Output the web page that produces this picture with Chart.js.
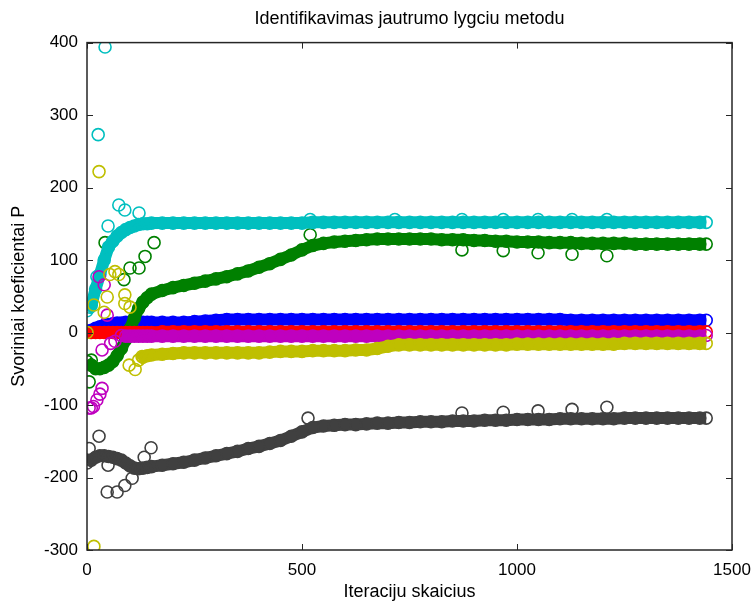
<!DOCTYPE html>
<html>
<head>
<meta charset="utf-8">
<script src="https://cdn.jsdelivr.net/npm/chart.js@4.4.1/dist/chart.umd.min.js"></script>
<style>
  body { margin: 0; background: #fff; }
  #wrap { width: 755px; height: 604px; }
</style>
</head>
<body>
<div id="wrap"><canvas id="myChart" width="755" height="604"></canvas></div>
<script>
// iteration numbers where the band values were read
var iters = [0,10,20,30,40,50,60,70,80,90,100,110,120,130,140,150,
  175,200,225,250,275,300,325,350,375,400,425,450,475,500,525,550,575,600,625,650,675,700,
  725,750,775,800,825,850,875,900,925,950,975,1000,1025,1050,1075,1100,1125,1150,1175,1200,
  1225,1250,1275,1300,1325,1350,1375,1400,1425,1440];

var blueVals = [0,3,6,8,10,11,12,13,13,14,14,14,14,14,14,14,
  14,14,14,15,16,17,18,18,18,18,18,18,18,18,18,18,18,18,18,18,18,18,
  18,18,18,18,18,18,18,18,18,18,18,18,18,18,18,18,17,17,17,17,
  17,17,17,17,17,17,17,17,17,17];
var greenVals = [-40,-45,-50,-50,-48,-45,-40,-32,-22,-10,5,20,33,42,48,53,
  58,62,65,68,71,74,77,81,85,90,95,101,107,114,120,123,125,126,127,128,129,129,
  129,129,129,129,128,128,128,127,127,126,126,125,125,125,124,124,124,123,123,123,
  123,123,122,122,122,122,122,122,122,122];
var redVals = [0,0,0,0,0,0,0,0,0,0,0,0,0,0,0,0,
  1,1,1,1,1,1,1,1,1,1,1,1,1,1,1,1,1,1,1,1,1,1,
  1,1,1,1,1,1,1,1,1,1,1,1,1,1,1,1,1,1,1,1,
  1,1,1,1,1,1,1,1,1,1];
var cyanVals = [30,38,60,80,100,118,126,133,138,142,145,147,149,150,150,151,
  151,151,151,151,151,151,151,151,151,151,151,151,151,151,152,152,152,152,152,152,152,152,
  152,152,152,152,152,152,152,152,152,152,152,152,152,152,152,152,152,152,152,152,
  152,152,152,152,152,152,152,152,152,152];
var magentaVals = [null,null,null,null,null,null,null,null,-4,-5,-5,-5,-5,-5,-5,-5,
  -5,-5,-5,-5,-5,-5,-5,-5,-5,-5,-5,-5,-5,-5,-5,-5,-5,-5,-5,-5,-5,-5,
  -5,-5,-5,-5,-5,-5,-5,-5,-5,-5,-5,-5,-5,-5,-5,-5,-5,-5,-5,-5,
  -5,-5,-5,-5,-5,-5,-5,-5,-5,-4];
var yellowVals = [null,null,null,null,null,null,null,null,null,null,null,null,-38,-34,-32,-31,
  -30,-29,-28,-28,-28,-28,-28,-28,-28,-28,-27,-26,-26,-26,-25,-25,-25,-25,-24,-24,-22,-19,
  -17,-17,-17,-17,-17,-17,-17,-17,-17,-17,-17,-16,-16,-16,-16,-16,-16,-16,-16,-16,
  -16,-15,-15,-15,-15,-15,-15,-15,-15,-15];
var grayVals = [-180,-176,-172,-170,-170,-171,-172,-174,-176,-180,-184,-187,-188,-187,-186,-185,
  -183,-181,-179,-176,-173,-170,-167,-164,-160,-157,-153,-149,-143,-137,-131,-129,-128,-127,-127,-126,-125,-125,
  -124,-124,-123,-123,-123,-122,-122,-122,-121,-121,-121,-120,-120,-120,-120,-119,-119,-119,-119,-119,
  -119,-118,-118,-118,-118,-118,-118,-118,-118,-118];

// single stray points
var blueOutX = [0,5];
var blueOutY = [0,2];
var greenOutX = [5,10,42,86,100,121,135,156,519,872,968,1049,1128,1209];
var greenOutY = [-68,-38,124,73,89,89,105,124,135,114,113,110,108,106];
var redOutX = [];
var redOutY = [];
var cyanOutX = [42,26,74,88,121,49,23,7,519,716,872,968,1049,1128,1209];
var cyanOutY = [394,273,176,169,165,147,77,35,156,156,156,156,156,156,156];
var magentaOutX = [5,10,15,23,30,35,28,40,47,35,65,55];
var magentaOutY = [-104,-104,-102,-93,-85,-77,77,66,24,-24,-12,-15];
var yellowOutX = [16,28,65,74,53,47,88,100,16,40,0,88,98,112,128];
var yellowOutY = [-295,222,84,80,80,49,52,35,38,28,0,40,-45,-51,-33];
var grayOutX = [5,28,47,70,88,105,133,149,49,514,872,968,1049,1128,1209];
var grayOutY = [-160,-143,-220,-220,-211,-201,-172,-159,-183,-118,-111,-110,-108,-106,-103];

var FONT = "'Liberation Sans', Arial, sans-serif";

function band(vals) {
  var out = [];
  for (var i = 0; i < iters.length; i++) {
    if (vals[i] !== null) out.push({x: iters[i], y: vals[i]});
  }
  return out;
}
function pts(xs, ys) {
  return xs.map(function (x, i) { return {x: x, y: ys[i]}; });
}

var series = [
  ["#0000FF", blueVals, blueOutX, blueOutY],
  ["#008000", greenVals, greenOutX, greenOutY],
  ["#FF0000", redVals, redOutX, redOutY],
  ["#00BFBF", cyanVals, cyanOutX, cyanOutY],
  ["#BF00BF", magentaVals, magentaOutX, magentaOutY],
  ["#BFBF00", yellowVals, yellowOutX, yellowOutY],
  ["#404040", grayVals, grayOutX, grayOutY]
];

var datasets = [];
series.forEach(function (s, k) {
  var common = {
    borderColor: s[0],
    pointBorderColor: s[0],
    pointBackgroundColor: "rgba(0,0,0,0)",
    pointRadius: 6,
    pointBorderWidth: 1.6,
    order: 10 - k
  };
  datasets.push(Object.assign({data: band(s[1]), showLine: true, borderWidth: 12}, common));
  datasets.push(Object.assign({data: pts(s[2], s[3]), showLine: false}, common));
});

// box around the axes with inward ticks on all four sides
var boxPlugin = {
  id: "box",
  afterDatasetsDraw: function (chart) {
    var ctx = chart.ctx, a = chart.chartArea;
    var xs = chart.scales.x, ys = chart.scales.y;
    ctx.save();
    ctx.strokeStyle = "#262626";
    ctx.lineWidth = 1.5;
    ctx.strokeRect(a.left, a.top, a.right - a.left, a.bottom - a.top);
    ctx.lineWidth = 1;
    ctx.beginPath();
    xs.ticks.forEach(function (t) {
      var px = Math.round(xs.getPixelForValue(t.value)) + 0.5;
      ctx.moveTo(px, a.bottom); ctx.lineTo(px, a.bottom - 6);
      ctx.moveTo(px, a.top); ctx.lineTo(px, a.top + 6);
    });
    ys.ticks.forEach(function (t) {
      var py = Math.round(ys.getPixelForValue(t.value)) + 0.5;
      ctx.moveTo(a.left, py); ctx.lineTo(a.left + 6, py);
      ctx.moveTo(a.right, py); ctx.lineTo(a.right - 6, py);
    });
    ctx.stroke();
    ctx.restore();
  }
};

new Chart("myChart", {
  type: "scatter",
  data: {datasets: datasets},
  options: {
    responsive: false,
    animation: false,
    layout: {padding: {left: 0, right: 23, top: 0, bottom: 0}},
    plugins: {
      legend: {display: false},
      tooltip: {enabled: false},
      title: {
        display: true,
        fullSize: false,
        text: "Identifikavimas jautrumo lygciu metodu",
        color: "#000",
        font: {family: FONT, size: 18, weight: "normal"},
        padding: {top: 8, bottom: 13}
      }
    },
    scales: {
      x: {
        type: "linear",
        min: 0, max: 1500,
        grid: {display: false, drawTicks: false},
        border: {display: false},
        ticks: {stepSize: 500, color: "#000", padding: 10, maxRotation: 0,
          font: {family: FONT, size: 17},
          callback: function (v) { return String(v); }},
        title: {display: true, text: "Iteraciju skaicius", color: "#000",
          font: {family: FONT, size: 18}, padding: {top: 0, bottom: 1}},
        afterFit: function (s) { s.height = 54; s.paddingLeft = 0; s.paddingRight = 0; }
      },
      y: {
        min: -300, max: 400,
        grid: {display: false, drawTicks: false},
        border: {display: false},
        ticks: {stepSize: 100, color: "#000", padding: 9,
          font: {family: FONT, size: 17}},
        title: {display: true, text: "Svoriniai koeficientai P", color: "#000",
          font: {family: FONT, size: 18}, padding: {top: 8, bottom: 0}},
        afterFit: function (s) { s.width = 87; }
      }
    }
  },
  plugins: [boxPlugin]
});
</script>
</body>
</html>
